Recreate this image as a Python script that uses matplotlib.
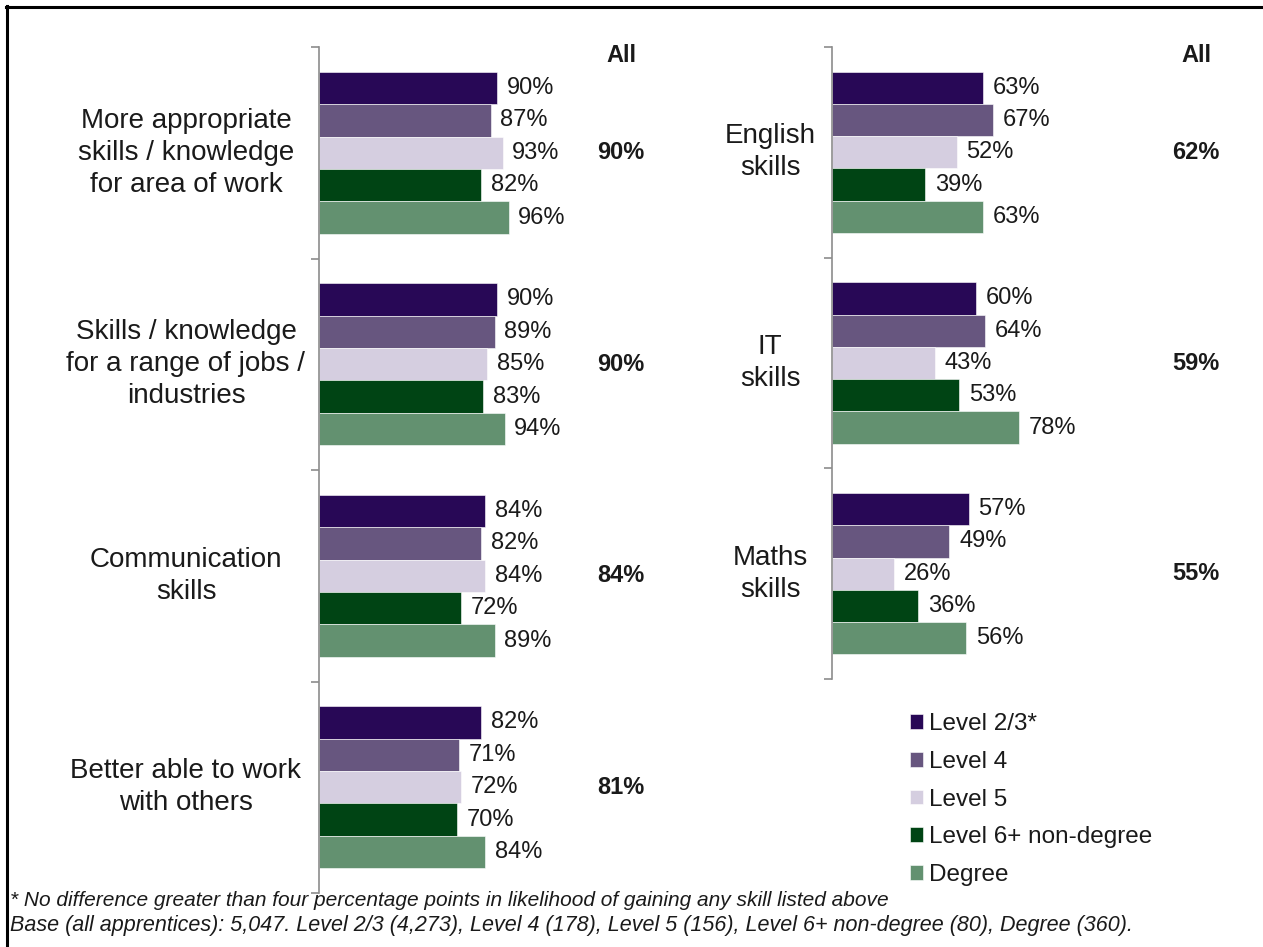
import numpy as np
import matplotlib
matplotlib.use("Agg")
import matplotlib.pyplot as plt
from matplotlib.lines import Line2D
from matplotlib.transforms import blended_transform_factory

plt.rcParams['font.family'] = ['Liberation Sans', 'DejaVu Sans']

# Skills gained, by apprenticeship level (%)
levels = ["Level 2/3*", "Level 4", "Level 5", "Level 6+ non-degree", "Degree"]
colours = ["#280856", "#67567f", "#d5cee0", "#004414", "#639170"]

left_cats = ["More appropriate\nskills / knowledge\nfor area of work",
             "Skills / knowledge\nfor a range of jobs /\nindustries",
             "Communication\nskills",
             "Better able to work\nwith others"]
left_l23 = [90, 90, 84, 82]
left_l4 = [87, 89, 82, 71]
left_l5 = [93, 85, 84, 72]
left_l6 = [82, 83, 72, 70]
left_deg = [96, 94, 89, 84]
left_all = [90, 90, 84, 81]

right_cats = ["English\nskills", "IT\nskills", "Maths\nskills"]
right_l23 = [63, 60, 57]
right_l4 = [67, 64, 49]
right_l5 = [52, 43, 26]
right_l6 = [39, 53, 36]
right_deg = [63, 78, 56]
right_all = [62, 59, 55]

footnote1 = "* No difference greater than four percentage points in likelihood of gaining any skill listed above"
footnote2 = ("Base (all apprentices): 5,047. Level 2/3 (4,273), Level 4 (178), Level 5 (156), "
             "Level 6+ non-degree (80), Degree (360).")

W, H = 1263, 947
fig = plt.figure(figsize=(W / 100, H / 100), dpi=100)


def px_axes(x0, y0, w, h):
    # axes placed by pixel box (top-left origin)
    return fig.add_axes([x0 / W, 1 - (y0 + h) / H, w / W, h / H])


def panel(ax, cats, series, totals, lab_x, all_x):
    n = len(cats)
    bh = 0.1532
    for k, (vals, col) in enumerate(zip(series, colours)):
        ypos = np.arange(n) + 0.5 + (k - 2) * bh
        bars = ax.barh(ypos, vals, height=bh, color=col, edgecolor="white",
                       linewidth=0.4, label=levels[k])
        for b, v in zip(bars, vals):
            ax.annotate(f"{v}%", (b.get_width(), b.get_y() + b.get_height() / 2),
                        xytext=(7, 0), textcoords="offset points",
                        va="center", ha="left", fontsize=17, color="#1a1a1a")
    ax.set_ylim(n, 0)
    ax.set_xlim(0, 100)
    for s in ["top", "right", "bottom"]:
        ax.spines[s].set_visible(False)
    ax.spines["left"].set_color("#8c8c8c")
    ax.spines["left"].set_linewidth(1.2)
    ax.set_yticks(np.arange(n + 1))
    ax.set_yticklabels([])
    ax.tick_params(axis="y", length=6, color="#8c8c8c", width=1.2)
    ax.set_xticks([])

    tr = blended_transform_factory(fig.transFigure, ax.transData)
    for i, c in enumerate(cats):
        ax.text(lab_x / W, i + 0.5, c, transform=tr, ha="center", va="center",
                fontsize=20, color="#1a1a1a", linespacing=1.31)
        ax.text(all_x / W, i + 0.5, f"{totals[i]}%", transform=tr, ha="center",
                va="center", fontsize=17, fontweight="bold", color="#1a1a1a")
    fig.text(all_x / W, 1 - 55 / H, "All", ha="center", va="center",
             fontsize=17, fontweight="bold", color="#1a1a1a")


ax1 = px_axes(319, 47, 197.4, 846)
panel(ax1, left_cats, [left_l23, left_l4, left_l5, left_l6, left_deg], left_all, 186, 621)

ax2 = px_axes(832, 47, 239.7, 632)
panel(ax2, right_cats, [right_l23, right_l4, right_l5, right_l6, right_deg], right_all, 770, 1196)

handles, labels = ax2.get_legend_handles_labels()
fig.legend(handles, labels, loc="upper left", bbox_to_anchor=(910 / W, 1 - 713 / H),
           frameon=False, fontsize=17.5, handlelength=0.55, handleheight=0.55,
           handletextpad=0.25, labelspacing=0.65, borderpad=0, borderaxespad=0,
           labelcolor="#1a1a1a")

fig.text(10 / W, 1 - 900 / H, footnote1, ha="left", va="center", fontsize=15,
         style="italic", color="#1a1a1a")
fig.text(10 / W, 1 - 925 / H, footnote2, ha="left", va="center", fontsize=15.5,
         style="italic", color="#1a1a1a")

# frame lines along top and left edge
fig.add_artist(Line2D([6 / W, 1], [1 - 7 / H, 1 - 7 / H], transform=fig.transFigure,
                      color="black", linewidth=2.2))
fig.add_artist(Line2D([7 / W, 7 / W], [0, 1 - 6 / H], transform=fig.transFigure,
                      color="black", linewidth=2.2))

fig.savefig("out.png", dpi=100)
